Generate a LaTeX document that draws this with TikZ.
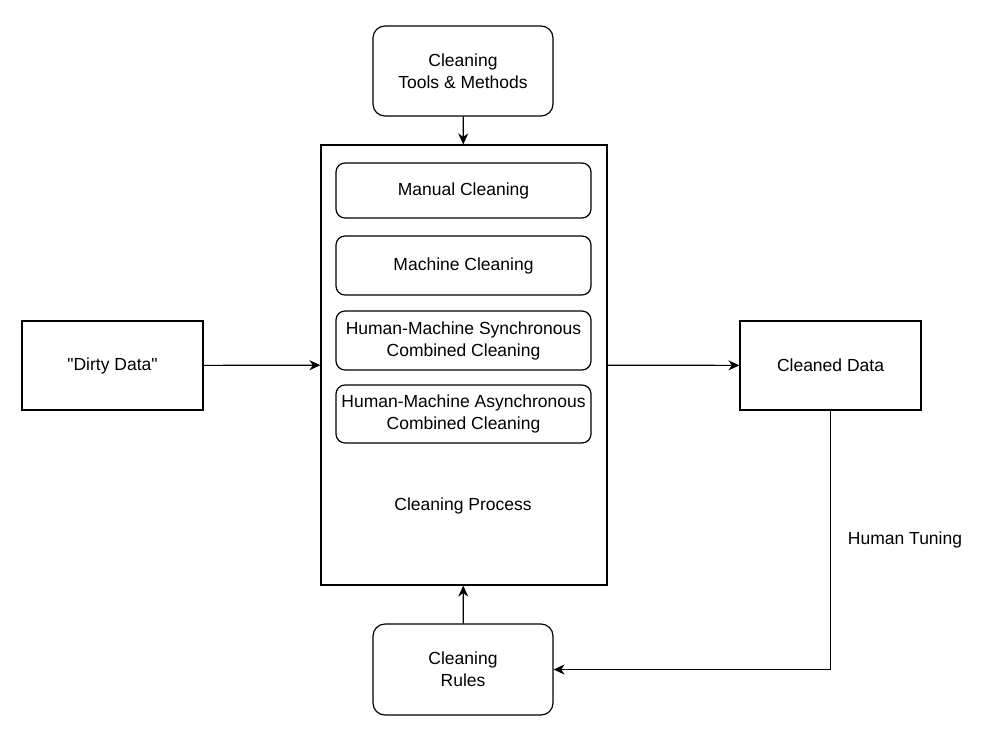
\documentclass[tikz,border=0pt]{standalone}
\usepackage{fontspec}
\setmainfont{Liberation Sans}[Ligatures=TeXOff]
\usetikzlibrary{arrows.meta,positioning}
\begin{document}
\begin{tikzpicture}[x=1pt,y=-1pt,
  every node/.style={font=\fontsize{17.5}{22}\selectfont, align=center, inner sep=0pt},
  rbox/.style={draw, line width=1.2pt, rounded corners=12pt},
  sbox/.style={draw, line width=1.2pt},
  conn/.style={line width=1.2pt, -{Stealth[length=11pt,width=10pt,inset=3.5pt]}}]
\useasboundingbox (0,0) rectangle (990,734);
\node[rbox, minimum width=180pt, minimum height=90pt] (tools) at (463,71) {Cleaning\\Tools \& Methods};
\node[sbox, minimum width=286pt, minimum height=440pt] (proc) at (464,365) {};
\node[rbox, rounded corners=9pt, minimum width=255pt, minimum height=55pt] (manual) at (463.5,190.5) {Manual Cleaning};
\node[rbox, rounded corners=9pt, minimum width=255pt, minimum height=59pt] (machine) at (463.5,265.5) {Machine Cleaning};
\node[rbox, rounded corners=9pt, minimum width=255pt, minimum height=59pt] (sync) at (463.5,340.5) {Human-Machine Synchronous\\Combined Cleaning};
\node[rbox, rounded corners=9pt, minimum width=255pt, minimum height=58pt] (async) at (463.5,414) {Human-Machine Asynchronous\\Combined Cleaning};
\node (proclabel) at (463,506) {Cleaning Process};
\node[sbox, minimum width=181pt, minimum height=89pt] (dirty) at (112.5,365.5) {"Dirty Data"};
\node[sbox, minimum width=181pt, minimum height=89pt] (clean) at (830.5,365.5) {Cleaned Data};
\node[rbox, minimum width=180pt, minimum height=91pt] (rules) at (463,669.5) {Cleaning\\Rules};
\node (tuning) at (905,540) {Human Tuning};
\draw[conn] (tools) -- (proc);
\draw[conn] (rules) -- (proc);
\draw[conn] (dirty) -- (proc);
\draw[conn] (proc) -- (clean);
\draw[conn] (clean.south) |- (rules.east);
\end{tikzpicture}
\end{document}
